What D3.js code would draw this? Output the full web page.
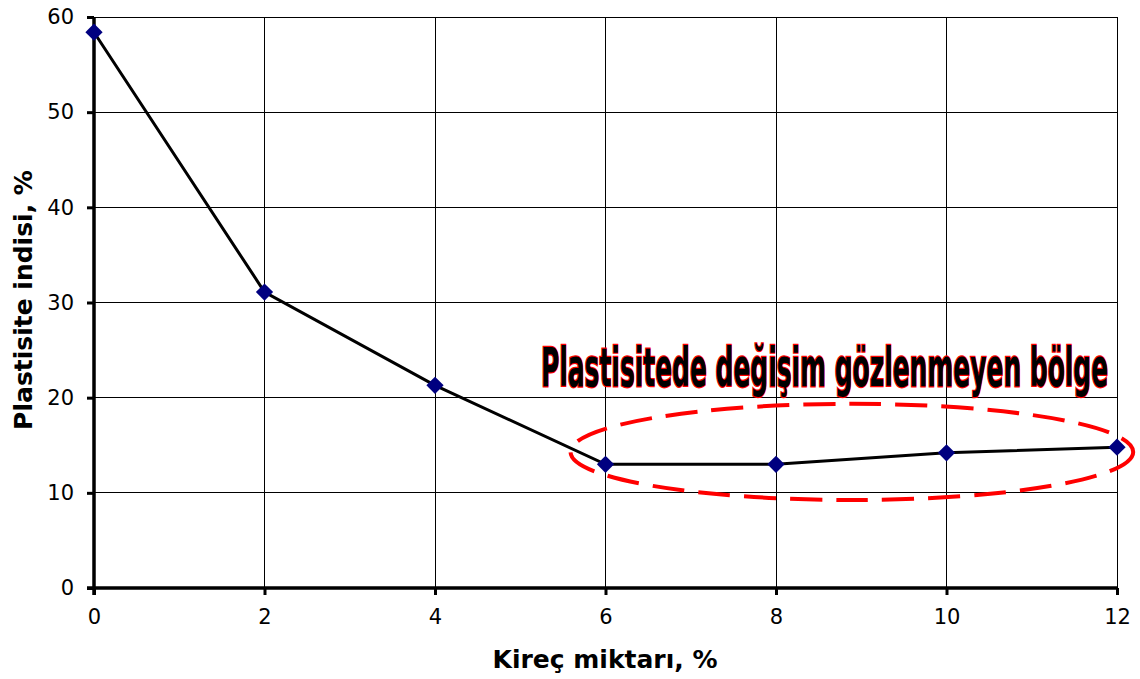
<!DOCTYPE html>
<html>
<head>
<meta charset="utf-8">
<script src="https://cdn.jsdelivr.net/npm/d3@7"></script>
<style>
  html, body { margin: 0; padding: 0; background: #fff; }
  svg { display: block; }
</style>
</head>
<body>
<div id="chart"></div>
<script>
// Plastisite indisi vs kireç miktarı
const limeContent = [0, 2, 4, 6, 8, 10, 12];
const plasticityIndex = [58.4, 31.1, 21.3, 13.0, 13.0, 14.2, 14.8];
const xTicks = [0, 2, 4, 6, 8, 10, 12];
const yTicks = [0, 10, 20, 30, 40, 50, 60];
const annotationText = 'Plastisitede değişim gözlenmeyen bölge';
// ellipse around the flat region, in data units
const regionCenter = [8.89, 14.3];
const regionRadius = [3.3, 5.05];

const W = 1140, H = 679;
const margin = { top: 17, right: 23, bottom: 91, left: 94 };
const width = W - margin.left - margin.right;
const height = H - margin.top - margin.bottom;

const svg = d3.select('#chart').append('svg')
  .attr('width', W)
  .attr('height', H);

const g = svg.append('g')
  .attr('transform', `translate(${margin.left},${margin.top})`);

const x = d3.scaleLinear().domain([0, 12]).range([0, width]);
const y = d3.scaleLinear().domain([0, 60]).range([height, 0]);

// grid
g.append('g')
  .selectAll('line')
  .data(yTicks.filter(d => d > 0))
  .join('line')
  .attr('x1', 0).attr('x2', width)
  .attr('y1', d => y(d)).attr('y2', d => y(d))
  .attr('stroke', '#000').attr('stroke-width', 1)
  .attr('shape-rendering', 'crispEdges');

g.append('g')
  .selectAll('line')
  .data(xTicks.filter(d => d > 0))
  .join('line')
  .attr('x1', d => x(d)).attr('x2', d => x(d))
  .attr('y1', 0).attr('y2', height)
  .attr('stroke', '#000').attr('stroke-width', 1)
  .attr('shape-rendering', 'crispEdges');

// axes
const yAxis = g.append('g')
  .call(d3.axisLeft(y).tickValues(yTicks).tickSize(7).tickPadding(13));
const xAxis = g.append('g')
  .attr('transform', `translate(0,${height})`)
  .call(d3.axisBottom(x).tickValues(xTicks).tickSize(7).tickPadding(14));

[xAxis, yAxis].forEach(a => {
  a.attr('font-size', 21).attr('font-family', 'DejaVu Sans, Verdana, sans-serif');
  a.select('.domain').attr('stroke-width', 3.5);
  a.selectAll('.tick line').attr('stroke-width', 3);
  a.selectAll('.tick text').attr('fill', '#000');
});
yAxis.select('.domain').attr('d', `M0,${height + 7}V0`);
xAxis.select('.domain').attr('d', `M-7,0H${width}`);

// annotation ellipse
g.append('ellipse')
  .attr('cx', x(regionCenter[0]))
  .attr('cy', y(regionCenter[1]))
  .attr('rx', x(regionRadius[0]) - x(0))
  .attr('ry', y(0) - y(regionRadius[1]))
  .attr('fill', 'none')
  .attr('stroke', '#ff0000')
  .attr('stroke-width', 4)
  .attr('stroke-dasharray', '32 14');

// line
const line = d3.line()
  .x((d, i) => x(limeContent[i]))
  .y(d => y(d));

g.append('path')
  .datum(plasticityIndex)
  .attr('fill', 'none')
  .attr('stroke', '#000')
  .attr('stroke-width', 3)
  .attr('d', line);

// markers
g.selectAll('.pt')
  .data(plasticityIndex)
  .join('path')
  .attr('class', 'pt')
  .attr('transform', (d, i) => `translate(${x(limeContent[i])},${y(d)})`)
  .attr('d', d3.symbol(d3.symbolDiamond2, 190)())
  .attr('fill', '#000080');

// annotation text, squeezed horizontally like a condensed display face
const noteX = 541 - margin.left, noteY = 386 - margin.top;
g.append('text')
  .attr('transform', `translate(${noteX},${noteY}) scale(0.62,1)`)
  .attr('font-family', 'Liberation Sans Narrow, DejaVu Sans Condensed, sans-serif')
  .attr('font-weight', 'bold')
  .attr('font-size', 54)
  .attr('fill', '#000')
  .attr('stroke', '#ff0000')
  .attr('stroke-width', 2.4)
  .attr('paint-order', 'stroke')
  .text(annotationText)
  .each(function () {
    // fit the text to its width in the reference
    const w = this.getComputedTextLength();
    d3.select(this).attr('transform', `translate(${noteX},${noteY}) scale(${567 / w},1)`);
  });

// axis titles
svg.append('text')
  .attr('x', 605)
  .attr('y', 668)
  .attr('text-anchor', 'middle')
  .attr('font-family', 'DejaVu Sans, Verdana, sans-serif')
  .attr('font-weight', 'bold')
  .attr('font-size', 25)
  .text('Kireç miktarı, %');

svg.append('text')
  .attr('transform', `translate(32,${300}) rotate(-90)`)
  .attr('text-anchor', 'middle')
  .attr('font-family', 'DejaVu Sans, Verdana, sans-serif')
  .attr('font-weight', 'bold')
  .attr('font-size', 25)
  .text('Plastisite indisi, %');
</script>
</body>
</html>
